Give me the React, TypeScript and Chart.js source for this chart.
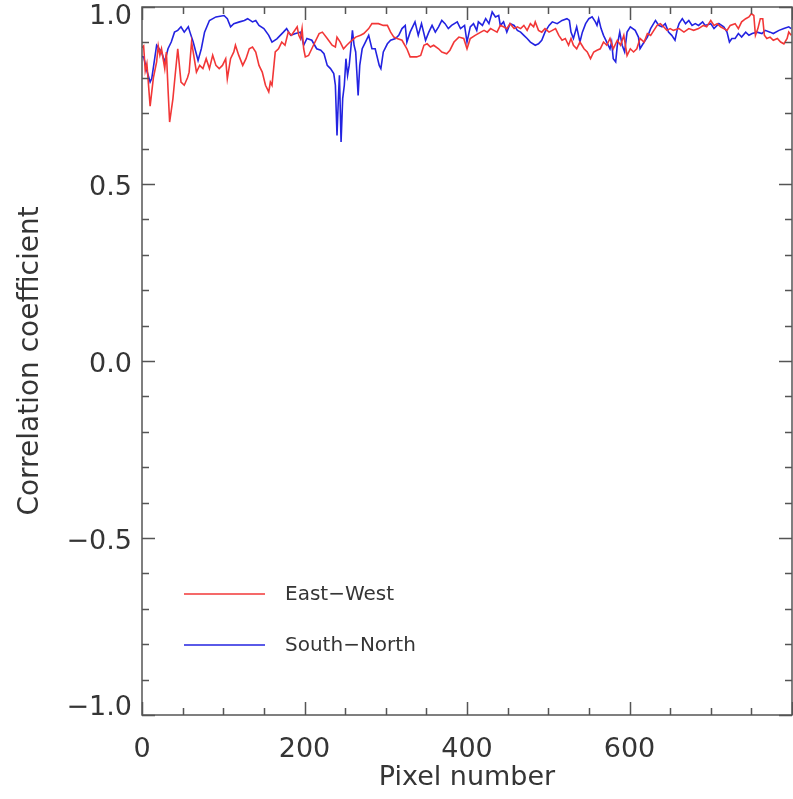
import React, { useEffect, useRef } from "react";
import { Chart, registerables } from "chart.js";

Chart.register(...registerables);

// ---- data -------------------------------------------------------------
const seriesLabels = ["East\u2212West", "South\u2212North"];
const xTitle = "Pixel number";
const yTitle = "Correlation coefficient";

const eastWest: [number, number][] = [
  [0,0.885],[2,0.89],[4,0.82],[6,0.84],[10,0.72],[14,0.80],[18,0.845],[20,0.89],[22,0.864],[24,0.882],[28,0.826],[30,0.873],[32,0.77],[34,0.675],[38,0.74],[40,0.788],[44,0.882],[46,0.835],[48,0.788],[52,0.779],[56,0.80],[58,0.816],[61,0.901],[63,0.873],[67,0.816],[71,0.835],[75,0.826],[79,0.854],[83,0.826],[87,0.864],[91,0.835],[95,0.826],[99,0.835],[103,0.854],[105,0.797],[109,0.854],[113,0.873],[115,0.892],[119,0.864],[124,0.835],[128,0.854],[132,0.882],[136,0.887],[140,0.873],[144,0.835],[148,0.816],[152,0.779],[156,0.76],[158,0.788],[160,0.779],[162,0.826],[164,0.873],[168,0.882],[172,0.901],[176,0.892],[180,0.929],[184,0.92],[191,0.944],[193,0.92],[195,0.91],[197,0.939],[199,0.882],
  [201,0.859],[205,0.863],[211,0.892],[218,0.925],[222,0.929],[228,0.911],[234,0.892],[238,0.887],[240,0.915],[244,0.901],[248,0.882],[252,0.892],[256,0.901],[263,0.915],[269,0.92],[273,0.925],[279,0.939],[283,0.953],[291,0.953],[297,0.948],[302,0.948],[306,0.929],[310,0.915],[314,0.911],[320,0.906],[326,0.882],[330,0.859],[338,0.859],[343,0.863],[347,0.892],[351,0.896],[355,0.887],[359,0.892],[365,0.882],[369,0.873],[375,0.868],[379,0.878],[384,0.901],[390,0.915],[396,0.911],
  [400,0.882],[404,0.911],[410,0.92],[417,0.929],[421,0.934],[425,0.929],[429,0.939],[433,0.934],[437,0.929],[441,0.948],[445,0.944],[449,0.939],[453,0.953],[458,0.939],[462,0.944],[466,0.939],[470,0.948],[474,0.934],[478,0.953],[482,0.944],[484,0.958],[488,0.934],[492,0.929],[496,0.939],[501,0.929],[505,0.934],[509,0.939],[513,0.92],[517,0.906],[521,0.911],[525,0.892],[528,0.911],[531,0.892],[535,0.882],[539,0.901],[544,0.882],[548,0.873],[552,0.854],[556,0.873],[560,0.878],[564,0.882],[568,0.901],[572,0.892],[576,0.911],[580,0.882],[585,0.906],[589,0.892],[593,0.92],
  [597,0.863],[601,0.882],[605,0.873],[609,0.882],[613,0.911],[618,0.901],[622,0.925],[626,0.92],[630,0.934],[634,0.948],[638,0.953],[642,0.944],[646,0.934],[650,0.939],[654,0.934],[661,0.939],[667,0.929],[673,0.939],[679,0.934],[685,0.939],[691,0.948],[695,0.944],[700,0.962],[704,0.948],[708,0.953],[712,0.944],[716,0.939],[720,0.934],[724,0.948],[730,0.953],[734,0.939],[738,0.958],[743,0.967],[747,0.972],[750,0.981],[753,0.976],[755,0.92],[758,0.939],[761,0.967],[764,0.967],[766,0.92],[769,0.911],[773,0.915],[777,0.906],[782,0.911],[786,0.901],[790,0.896],[794,0.911],[796,0.929],[799,0.92],
];

const southNorth: [number, number][] = [
  [0,0.86],[2,0.859],[6,0.82],[10,0.788],[12,0.798],[18,0.892],[24,0.873],[28,0.845],[32,0.882],[36,0.901],[40,0.929],[44,0.934],[48,0.944],[52,0.929],[57,0.944],[59,0.929],[63,0.901],[69,0.849],[73,0.882],[77,0.929],[83,0.962],[91,0.972],[101,0.976],[105,0.967],[109,0.944],[113,0.953],[120,0.958],[126,0.962],[130,0.967],[136,0.958],[140,0.962],[144,0.948],[150,0.939],[156,0.92],[160,0.901],[166,0.91],[174,0.929],[178,0.939],[183,0.92],[189,0.925],[195,0.929],[199,0.892],
  [203,0.911],[209,0.906],[215,0.882],[220,0.878],[224,0.868],[228,0.835],[232,0.826],[236,0.812],[238,0.779],[240,0.637],[242,0.76],[243,0.807],[245,0.619],[247,0.741],[249,0.779],[251,0.854],[253,0.807],[255,0.835],[257,0.882],[259,0.934],[261,0.892],[263,0.873],[266,0.75],[268,0.835],[271,0.882],[275,0.901],[279,0.92],[283,0.882],[287,0.882],[292,0.835],[294,0.826],[297,0.873],[302,0.896],[306,0.906],[312,0.911],[316,0.92],[320,0.939],[324,0.948],[326,0.901],[330,0.929],[336,0.958],[340,0.92],[344,0.953],[349,0.906],[353,0.929],[357,0.948],[361,0.929],[365,0.944],[369,0.962],[373,0.953],[377,0.939],[381,0.948],[388,0.958],[392,0.939],[397,0.948],
  [400,0.901],[404,0.944],[408,0.953],[412,0.934],[414,0.958],[419,0.948],[423,0.967],[427,0.953],[431,0.986],[435,0.972],[439,0.976],[441,0.948],[445,0.958],[449,0.929],[453,0.953],[458,0.948],[462,0.934],[466,0.929],[470,0.92],[474,0.911],[478,0.901],[484,0.892],[488,0.896],[492,0.906],[496,0.929],[501,0.948],[505,0.958],[511,0.953],[517,0.962],[523,0.967],[526,0.962],[528,0.929],[531,0.911],[535,0.944],[539,0.901],[542,0.929],[546,0.953],[550,0.967],[554,0.972],[558,0.958],[560,0.948],[562,0.967],[565,0.939],[568,0.92],[572,0.901],[576,0.882],[578,0.901],[580,0.854],[583,0.845],[585,0.892],[588,0.929],[591,0.892],[594,0.873],
  [597,0.929],[601,0.944],[607,0.934],[611,0.915],[613,0.882],[618,0.901],[622,0.915],[626,0.939],[632,0.962],[636,0.948],[640,0.944],[644,0.953],[648,0.929],[652,0.92],[656,0.906],[659,0.939],[661,0.953],[665,0.967],[669,0.953],[673,0.962],[677,0.948],[681,0.953],[685,0.948],[690,0.958],[693,0.948],[700,0.953],[704,0.939],[710,0.953],[716,0.944],[720,0.929],[723,0.901],[726,0.911],[730,0.911],[734,0.925],[738,0.915],[743,0.929],[747,0.92],[751,0.925],[757,0.929],[763,0.925],[767,0.934],[773,0.929],[777,0.925],[784,0.934],[790,0.939],[796,0.944],[799,0.939],
];

const X_MIN = 0, X_MAX = 800, X_MAJOR = 200, X_MINOR = 50;
const Y_MIN = -1, Y_MAX = 1, Y_MAJOR = 0.5, Y_MINOR = 0.1;

// ---- styles -------------------------------------------------------------
const W = 793, H = 799;
const FONT = "'DejaVu Sans', sans-serif";
const TEXT = "#353535";
const AXIS = "#555555";
const RED = "rgb(242,55,55)";
const BLUE = "rgb(35,35,225)";
const fmtY = (v: number) => v.toFixed(1).replace("-", "\u2212");

const framePlugin = {
  id: "frameTicks",
  afterDraw(chart: any) {
    const { ctx, chartArea } = chart;
    const { left, right, top, bottom } = chartArea;
    const xs = chart.scales.x, ys = chart.scales.y;
    ctx.save();
    ctx.strokeStyle = AXIS;
    ctx.lineWidth = 1.5;
    ctx.beginPath();
    for (let v = X_MIN; v <= X_MAX + 1e-6; v += X_MINOR) {
      const px = Math.round(xs.getPixelForValue(v)) + 0.5;
      const len = Math.abs(v % X_MAJOR) < 1e-6 ? 13 : 7;
      ctx.moveTo(px, bottom); ctx.lineTo(px, bottom - len);
      ctx.moveTo(px, top); ctx.lineTo(px, top + len);
    }
    const n = Math.round((Y_MAX - Y_MIN) / Y_MINOR);
    for (let i = 0; i <= n; i++) {
      const v = Y_MIN + i * Y_MINOR;
      const py = Math.round(ys.getPixelForValue(v)) + 0.5;
      const major = Math.abs(v / Y_MAJOR - Math.round(v / Y_MAJOR)) < 1e-6;
      const len = major ? 13 : 7;
      ctx.moveTo(left, py); ctx.lineTo(left + len, py);
      ctx.moveTo(right, py); ctx.lineTo(right - len, py);
    }
    ctx.stroke();
    ctx.strokeRect(left, top, right - left, bottom - top);

    // y tick labels (from the scale's own ticks)
    ctx.fillStyle = TEXT;
    ctx.font = `27px ${FONT}`;
    ctx.textAlign = "right";
    ctx.textBaseline = "middle";
    ys.ticks.forEach((t: any) => {
      const v = t.value;
      let py = ys.getPixelForValue(v) + 4;
      if (Math.abs(v - Y_MAX) < 1e-6) py = top + 10;
      if (Math.abs(v - Y_MIN) < 1e-6) py = bottom - 7;
      ctx.fillText(fmtY(v), left - 10, py);
    });
    ctx.restore();
  },
  afterDatasetsDraw(chart: any) {
    const { ctx, chartArea } = chart;
    ctx.save();
    ctx.font = `20px ${FONT}`;
    ctx.textBaseline = "middle";
    ctx.textAlign = "left";
    chart.data.datasets.forEach((ds: any, i: number) => {
      const y = chartArea.top + 587 + i * 51;
      const x0 = chartArea.left + 42;
      ctx.strokeStyle = ds.borderColor;
      ctx.lineWidth = 1.5;
      ctx.beginPath();
      ctx.moveTo(x0, y); ctx.lineTo(x0 + 81, y);
      ctx.stroke();
      ctx.fillStyle = TEXT;
      ctx.fillText(ds.label, x0 + 101, y + 1);
    });
    ctx.restore();
  },
};

export default function App() {
  const ref = useRef<HTMLCanvasElement | null>(null);
  useEffect(() => {
    if (!ref.current) return;
    const chart = new Chart(ref.current, {
      type: "line",
      data: {
        datasets: [
          {
            label: seriesLabels[0],
            data: eastWest.map(([x, y]) => ({ x, y })),
            borderColor: RED,
            borderWidth: 1.6,
            pointRadius: 0,
            tension: 0,
            fill: false,
          },
          {
            label: seriesLabels[1],
            data: southNorth.map(([x, y]) => ({ x, y })),
            borderColor: BLUE,
            borderWidth: 1.6,
            pointRadius: 0,
            tension: 0,
            fill: false,
          },
        ],
      },
      options: {
        animation: false,
        responsive: false,
        devicePixelRatio: 1,
        layout: { padding: { top: 7, right: 1, left: 0, bottom: 0 } },
        plugins: { legend: { display: false }, tooltip: { enabled: false } },
        scales: {
          x: {
            type: "linear",
            min: X_MIN,
            max: X_MAX,
            border: { display: false },
            grid: { display: false },
            ticks: {
              stepSize: X_MAJOR,
              padding: 11,
              color: TEXT,
              font: { family: FONT, size: 27 },
              maxRotation: 0,
              callback: (v: any) => (v >= X_MAX ? "" : String(v)),
            },
            title: {
              display: true,
              text: xTitle,
              color: TEXT,
              font: { family: FONT, size: 27 },
              padding: { top: 0, bottom: 5 },
            },
            afterFit: (s: any) => {
              s.height = 84;
              s.paddingLeft = 0; s.paddingRight = 0;
            },
          },
          y: {
            type: "linear",
            min: Y_MIN,
            max: Y_MAX,
            border: { display: false },
            grid: { display: false },
            ticks: {
              stepSize: Y_MAJOR,
              display: false,
            },
            title: {
              display: true,
              text: yTitle,
              color: TEXT,
              font: { family: FONT, size: 28 },
              padding: { top: 14, bottom: 0 },
            },
            afterFit: (s: any) => {
              s.width = 142;
              s.paddingTop = 0; s.paddingBottom = 0;
            },
          },
        },
      },
      plugins: [framePlugin],
    });
    return () => chart.destroy();
  }, []);
  return (
    <div style={{ position: "fixed", left: 0, top: 0, width: W, height: H, background: "#fff" }}>
      <canvas ref={ref} width={W} height={H} style={{ width: W, height: H, display: "block" }} />
    </div>
  );
}
